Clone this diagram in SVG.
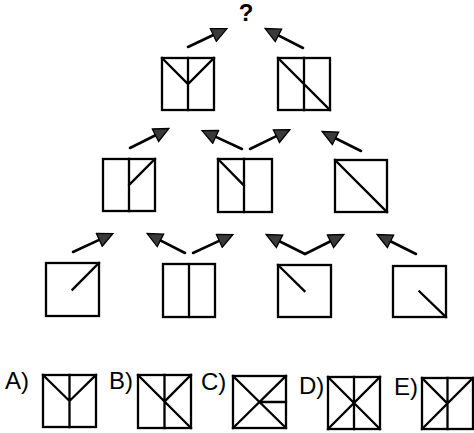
<svg xmlns="http://www.w3.org/2000/svg" width="474" height="433" viewBox="0 0 474 433">
<style>
.sq{fill:#fff;stroke:#000;stroke-width:2.3}
.ln{stroke:#000;stroke-width:2.3;fill:none;stroke-linecap:square}
.ar{stroke:#000;stroke-width:2.6;fill:none;stroke-linecap:round;marker-end:url(#ah)}
.lb{font-family:"Liberation Sans",Arial,sans-serif;font-size:24px;fill:#000}
</style>
<defs>
<marker id="ah" markerUnits="userSpaceOnUse" markerWidth="18" markerHeight="16" refX="4" refY="7" orient="auto" viewBox="-1 -1 17 16">
<path d="M0,0 L15,7 L0,14 Z" fill="#3a3a3a" stroke="#000" stroke-width="1.3" stroke-linejoin="miter"/>
</marker>
</defs>
<rect width="474" height="433" fill="#fff"/>
<g id="question"><text x="246" y="21" text-anchor="middle" font-family="Liberation Sans,Arial,sans-serif" font-size="24" font-weight="bold">?</text></g>
<g id="connectors">
<line class="ar" x1="188" y1="47" x2="216.96" y2="33.28"/>
<line class="ar" x1="303" y1="48" x2="274.90" y2="33.57"/>
<line class="ar" x1="130" y1="148" x2="159.06" y2="133.47"/>
<line class="ar" x1="242" y1="149" x2="212.08" y2="135.19"/>
<line class="ar" x1="250" y1="149" x2="280.01" y2="134.38"/>
<line class="ar" x1="361" y1="151" x2="331.94" y2="136.47"/>
<line class="ar" x1="73" y1="252" x2="102.92" y2="238.19"/>
<line class="ar" x1="185" y1="253" x2="156.90" y2="238.57"/>
<line class="ar" x1="193" y1="253" x2="222.92" y2="239.19"/>
<line class="ar" x1="305" y1="254" x2="275.94" y2="239.47"/>
<line class="ar" x1="305" y1="254" x2="334.06" y2="239.47"/>
<line class="ar" x1="416" y1="254" x2="386.94" y2="239.47"/>
</g>
<g id="top-left">
<rect class="sq" x="162" y="58" width="52" height="52"/>
<path class="ln" d="M188,58 V110 M162,58 L188,84 L214,58"/>
</g>
<g id="top-right">
<rect class="sq" x="278" y="58" width="52" height="52"/>
<path class="ln" d="M304,58 V110 M278,58 L330,110"/>
</g>
<g id="mid-1">
<rect class="sq" x="103" y="159" width="52" height="52"/>
<path class="ln" d="M129,159 V211 M155,159 L129,185"/>
</g>
<g id="mid-2">
<rect class="sq" x="218" y="159" width="54" height="53"/>
<path class="ln" d="M244,159 V212 M218,159 L244,185.5"/>
</g>
<g id="mid-3">
<rect class="sq" x="335" y="160" width="52" height="52"/>
<path class="ln" d="M335,160 L387,212"/>
</g>
<g id="bottom-1">
<rect class="sq" x="46" y="263" width="53" height="53"/>
<path class="ln" d="M99,263 L72.5,289.5"/>
</g>
<g id="bottom-2">
<rect class="sq" x="163" y="264" width="52" height="53"/>
<path class="ln" d="M189,264 V317"/>
</g>
<g id="bottom-3">
<rect class="sq" x="278" y="265" width="53" height="52"/>
<path class="ln" d="M278,265 L304.5,291"/>
</g>
<g id="bottom-4">
<rect class="sq" x="393" y="266" width="53" height="51"/>
<path class="ln" d="M419.5,291.5 L446,317"/>
</g>
<g id="option-A">
<text class="lb" x="5" y="389">A)</text>
<rect class="sq" x="43" y="375" width="53" height="52"/>
<path class="ln" d="M69.5,375 V427 M43,375 L69.5,401 L96,375"/>
</g>
<g id="option-B">
<text class="lb" x="109" y="389">B)</text>
<rect class="sq" x="138" y="375" width="53" height="53"/>
<path class="ln" d="M164.5,375 V428 M138,375 L191,428 M191,375 L164.5,401.5"/>
</g>
<g id="option-C">
<text class="lb" x="201" y="390">C)</text>
<rect class="sq" x="233" y="376" width="53" height="52"/>
<path class="ln" d="M233,376 L286,428 M286,376 L233,428 M259.5,402 H286"/>
</g>
<g id="option-D">
<text class="lb" x="299" y="394">D)</text>
<rect class="sq" x="328" y="377" width="52" height="52"/>
<path class="ln" d="M328,377 L380,429 M380,377 L328,429 M354,377 V429"/>
</g>
<g id="option-E">
<text class="lb" x="394" y="395">E)</text>
<rect class="sq" x="422" y="378" width="51" height="51"/>
<path class="ln" d="M447.5,378 V429 M473,378 L422,429 M422,378 L447.5,403.5"/>
</g>
</svg>
